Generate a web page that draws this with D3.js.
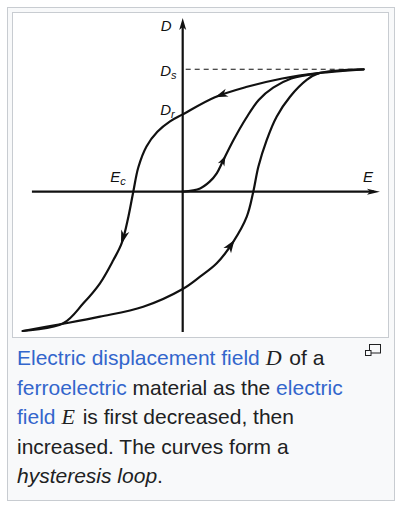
<!DOCTYPE html>
<html><head><meta charset="utf-8">
<script src="https://cdn.jsdelivr.net/npm/d3@7"></script>
<style>
html,body{margin:0;padding:0;background:#fff;width:405px;height:511px;overflow:hidden}
#box{position:absolute;left:7px;top:7px;width:386px;height:492px;border:1px solid #c8ccd1;background:#f8f9fa}
#img{position:absolute;left:12px;top:12px;width:375px;height:324px;border:1px solid #c8ccd1;background:#fff}
#chart{position:absolute;left:0;top:0}
#cap{position:absolute;left:17px;top:343px;font-family:"Liberation Sans",Arial,sans-serif;font-size:21px;line-height:29.5px;color:#202122;white-space:nowrap}
#cap div{height:29.5px}
#cap a{color:#3366cc;text-decoration:none}
.m{font-family:"Liberation Serif","Times New Roman",serif;font-style:italic;font-size:22px;line-height:0;padding-right:2px}
</style></head>
<body>
<div id="box"></div>
<div id="img"></div>
<div id="cap">
<div><a href="#">Electric displacement field</a> <span class="m">D</span> of a</div>
<div><a href="#">ferroelectric</a> material as the <a href="#">electric</a></div>
<div><a href="#">field</a> <span class="m">E</span> is first decreased, then</div>
<div>increased. The curves form a</div>
<div><i>hysteresis loop</i>.</div>
</div>
<svg id="chart" width="405" height="511"></svg>
<script>
// ---- data (E, D in units of the saturation point) ----
const descending = [[1.0,1.0],[0.749,0.969],[0.55,0.925],[0.35,0.855],[0.178,0.772],[0,0.632],[-0.07,0.575],[-0.14,0.49],[-0.2,0.37],[-0.245,0.2],[-0.273,0],[-0.30,-0.204],[-0.337,-0.42],[-0.383,-0.558],[-0.457,-0.748],[-0.549,-0.912],[-0.66,-1.075],[-0.884,-1.138]];
const ascending = [[-0.884,-1.138],[-0.669,-1.081],[-0.457,-1.021],[-0.218,-0.94],[0,-0.795],[0.096,-0.694],[0.188,-0.585],[0.28,-0.408],[0.354,-0.204],[0.39,0],[0.418,0.204],[0.464,0.422],[0.519,0.613],[0.593,0.776],[0.685,0.913],[0.749,0.967],[1.0,1.0]];
const virgin = [[0,0],[0.096,0.027],[0.149,0.082],[0.188,0.15],[0.222,0.25],[0.28,0.42],[0.35,0.6],[0.42,0.75],[0.5,0.85],[0.6,0.925],[0.749,0.967]];
const arrowPoints = {descA:[0.178,0.776], descB:[-0.343,-0.435], asc:[0.289,-0.395], vir:[0.228,0.30]};
const axisE = [-0.833, 1.09];
const axisD = [-1.146, 1.42];
const Ds = 1.0, Dr = 0.632, Ec = -0.273;

const svg = d3.select('#chart');
const x = d3.scaleLinear().domain([-1,1]).range([1.7, 363.7]);
const y = d3.scaleLinear().domain([-1,1]).range([314.1, 69.3]);
const ink = '#111';

// axes
svg.append('line').attr('x1',x(axisE[0])).attr('x2',x(axisE[1])-6).attr('y1',y(0)).attr('y2',y(0))
  .attr('stroke',ink).attr('stroke-width',2.2);
svg.append('line').attr('x1',x(0)).attr('x2',x(0)).attr('y1',y(axisD[0])).attr('y2',y(axisD[1])+6)
  .attr('stroke',ink).attr('stroke-width',2.2);
// axis arrowheads
{
  const tx=x(axisE[1]), ty=y(0);
  svg.append('polygon').attr('points',[[tx,ty],[tx-13,ty-3],[tx-10,ty],[tx-13,ty+3]].join(' ')).attr('fill',ink);
  const ux=x(0), uy=y(axisD[1]);
  svg.append('polygon').attr('points',[[ux,uy],[ux-3.5,uy+12],[ux,uy+9],[ux+3.5,uy+12]].join(' ')).attr('fill',ink);
}
// dashed saturation line
svg.append('line').attr('x1',x(0)+3).attr('x2',x(1)).attr('y1',y(Ds)).attr('y2',y(Ds))
  .attr('stroke',ink).attr('stroke-width',1.1).attr('stroke-dasharray','5,4');

const line = d3.line().x(d=>x(d[0])).y(d=>y(d[1])).curve(d3.curveCatmullRom.alpha(0.5));
function curve(data){
  return svg.append('path').attr('d',line(data)).attr('fill','none').attr('stroke',ink)
    .attr('stroke-width',2.2).attr('stroke-linecap','round').node();
}
const pDesc = curve(descending), pAsc = curve(ascending), pVir = curve(virgin);

function arrow(node, target, len, hw){
  const tx=x(target[0]), ty=y(target[1]);
  const L=node.getTotalLength();
  let best=0, bd=Infinity;
  for(let s=0;s<=L;s+=0.5){const p=node.getPointAtLength(s);const d=(p.x-tx)**2+(p.y-ty)**2;if(d<bd){bd=d;best=s;}}
  const tip=node.getPointAtLength(best), back=node.getPointAtLength(Math.max(0,best-len));
  let dx=tip.x-back.x, dy=tip.y-back.y; const n=Math.hypot(dx,dy); dx/=n; dy/=n;
  const bx=tip.x-dx*len, by=tip.y-dy*len, nx=-dy, ny=dx;
  const notch=[tip.x-dx*len*0.72, tip.y-dy*len*0.72];
  svg.append('polygon').attr('points',[[tip.x,tip.y],[bx+nx*hw,by+ny*hw],notch,[bx-nx*hw,by-ny*hw]].join(' ')).attr('fill',ink);
}
arrow(pDesc, arrowPoints.descA, 13, 4.2);
arrow(pDesc, arrowPoints.descB, 15, 4.2);
arrow(pAsc, arrowPoints.asc, 13, 4.6);
arrow(pVir, arrowPoints.vir, 10, 3.6);

// labels
const lab = svg.append('g').attr('font-family','"Liberation Sans",Arial,sans-serif').attr('font-style','italic').attr('fill',ink);
function label(px,py,main,sub){
  const t=lab.append('text').attr('x',px).attr('y',py).attr('font-size',15).text(main);
  if(sub) t.append('tspan').attr('font-size',11).attr('dy',3).text(sub);
}
label(x(0)-22, y(axisD[1])+13, 'D');
label(x(0)-22.5, y(Ds)+6.5, 'D','s');
label(x(0)-22.5, y(Dr)+0.5, 'D','r');
label(x(axisE[1])-17, y(0)-10, 'E');
label(x(Ec)-23, y(0)-10, 'E','c');

// magnify icon
const ic = svg.append('g').attr('stroke','#202122').attr('stroke-width',1).attr('fill','none');
ic.append('rect').attr('x',369.5).attr('y',344.5).attr('width',11).attr('height',8.5);
ic.append('rect').attr('x',365.5).attr('y',350.5).attr('width',5.5).attr('height',5).attr('fill','#f8f9fa');
</script>
</body></html>
